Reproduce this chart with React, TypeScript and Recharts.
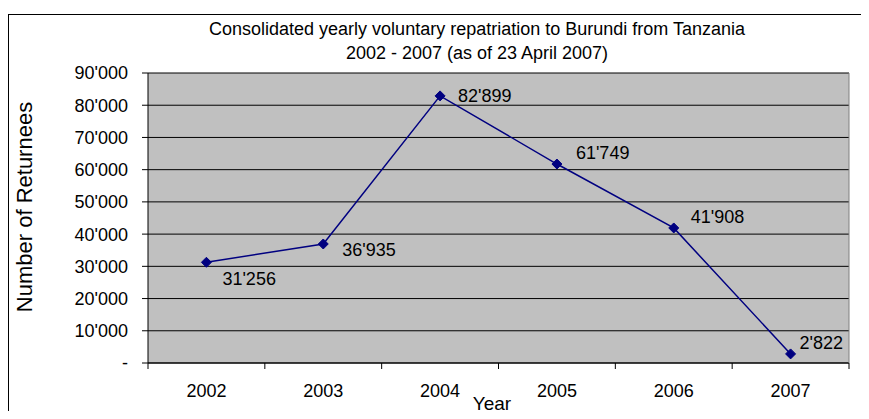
import React from 'react';
import { LineChart, Line, XAxis, YAxis, CartesianGrid, LabelList } from 'recharts';

const years = ['2002', '2003', '2004', '2005', '2006', '2007'];
const returnees = [31256, 36935, 82899, 61749, 41908, 2822];
const yTicks = [0, 10000, 20000, 30000, 40000, 50000, 60000, 70000, 80000, 90000];
// label offset from its point: [dx, dy]
const labelOffsets = [
  [16, 17],
  [19, 6],
  [18, 0],
  [19, -11],
  [17, -11],
  [9, -11],
];

const data = years.map((year, i) => ({ year, value: returnees[i] }));

const FONT = '"Liberation Sans", Arial, sans-serif';

function fmt(v: number): string {
  if (v === 0) return '-';
  return String(v).replace(/\B(?=(\d{3})+(?!\d))/g, "'");
}

function Diamond(props: any) {
  const { cx, cy } = props;
  if (cx == null || cy == null) return null;
  const h = 5;
  return (
    <polygon
      points={`${cx},${cy - h} ${cx + h},${cy} ${cx},${cy + h} ${cx - h},${cy}`}
      fill="#000080"
      stroke="#000080"
    />
  );
}

function PointLabel(props: any) {
  const { x, y, value, index } = props;
  const [dx, dy] = labelOffsets[index] || [10, 0];
  return (
    <text x={x + dx} y={y + dy} fontSize={18} fill="#000" dominantBaseline="central" fontFamily={FONT}>
      {fmt(value)}
    </text>
  );
}

// category label in the middle, tick marks on the band edges
function YearTick(props: any) {
  const { x, y, payload, index } = props;
  const half = payload?.offset || 0;
  const axisY = y - 21;
  const last = index === years.length - 1;
  return (
    <g>
      <line x1={x - half} x2={x - half} y1={axisY} y2={axisY + 6} stroke="#000" />
      {last && <line x1={x + half} x2={x + half} y1={axisY} y2={axisY + 6} stroke="#000" />}
      <text x={x} y={y} textAnchor="middle" dy="0.71em" fontSize={18} fill="#000" fontFamily={FONT}>
        {payload.value}
      </text>
    </g>
  );
}

export default function App() {
  return (
    <div
      style={{
        position: 'relative',
        width: 869,
        height: 419,
        margin: -8,
        overflow: 'hidden',
        background: '#fff',
        fontFamily: FONT,
      }}
    >
      <div
        style={{
          position: 'absolute',
          left: 8,
          top: 14,
          width: 900,
          height: 500,
          border: '1px solid #000',
        }}
      />
      <div style={{ position: 'absolute', left: 0, top: 0 }}>
        <LineChart width={869} height={419} data={data} margin={{ top: 73, right: 19, left: 0, bottom: 0 }}>
          <CartesianGrid vertical={false} stroke="#000" fill="#C0C0C0" />
          <XAxis
            dataKey="year"
            scale="band"
            tickLine={false}
            axisLine={{ stroke: '#000' }}
            tick={<YearTick />}
            tickSize={6}
            tickMargin={15}
            height={56}
            interval={0}
          />
          <XAxis
            xAxisId="top"
            orientation="top"
            type="number"
            domain={[0, 6]}
            allowDataOverflow
            tick={false}
            tickLine={false}
            axisLine={{ stroke: '#808080' }}
            height={0}
          />
          <YAxis
            domain={[0, 90000]}
            ticks={yTicks}
            interval={0}
            tickFormatter={fmt}
            tick={{ fontSize: 18, fill: '#000', fontFamily: FONT }}
            tickLine={{ stroke: '#000' }}
            axisLine={{ stroke: '#000' }}
            tickSize={6}
            tickMargin={14}
            width={148}
          />
          <YAxis
            yAxisId="right"
            orientation="right"
            domain={[0, 90000]}
            tick={false}
            tickLine={false}
            axisLine={{ stroke: '#808080' }}
            width={1}
          />
          <Line
            type="linear"
            dataKey="value"
            stroke="#000080"
            strokeWidth={1.5}
            dot={<Diamond />}
            activeDot={false}
            isAnimationActive={false}
          >
            <LabelList dataKey="value" content={<PointLabel />} />
          </Line>
        </LineChart>
      </div>
      <div
        style={{
          position: 'absolute',
          left: 0,
          width: 954,
          top: 17,
          textAlign: 'center',
          fontSize: 18,
          lineHeight: '24px',
          color: '#000',
        }}
      >
        Consolidated yearly voluntary repatriation to Burundi from Tanzania
        <br />
        2002 - 2007 (as of 23 April 2007)
      </div>
      <div
        style={{
          position: 'absolute',
          left: 25,
          top: 207,
          transform: 'translate(-50%, -50%) rotate(-90deg)',
          whiteSpace: 'nowrap',
          fontSize: 22,
          color: '#000',
        }}
      >
        Number of Returnees
      </div>
      <div
        style={{
          position: 'absolute',
          left: 492,
          top: 404,
          transform: 'translate(-50%, -50%)',
          fontSize: 19,
          color: '#000',
        }}
      >
        Year
      </div>
    </div>
  );
}
